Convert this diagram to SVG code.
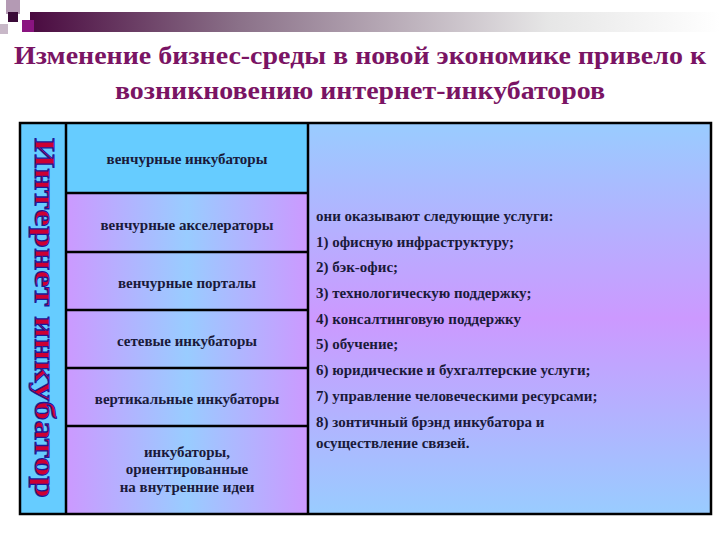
<svg xmlns="http://www.w3.org/2000/svg" width="720" height="540" viewBox="0 0 720 540">
<defs>
<linearGradient id="bar" x1="0" x2="1" y1="0" y2="0"><stop offset="0" stop-color="#4a0a40"/><stop offset="0.3" stop-color="#8a7088"/><stop offset="0.75" stop-color="#e6e6e6"/><stop offset="1" stop-color="#ffffff"/></linearGradient>
<linearGradient id="mid" x1="0" x2="1" y1="0" y2="0"><stop offset="0" stop-color="#cc99ff"/><stop offset="0.5" stop-color="#99ccff"/><stop offset="1" stop-color="#cc99ff"/></linearGradient>
<linearGradient id="right" x1="0" x2="0" y1="0" y2="1"><stop offset="0" stop-color="#99ccff"/><stop offset="0.5" stop-color="#cc99ff"/><stop offset="1" stop-color="#99ccff"/></linearGradient>
</defs>
<style>
.ln{stroke:#000;stroke-width:2.5;fill:none}
text{font-family:'Liberation Serif','Times New Roman','DejaVu Serif',serif;font-weight:bold}
.t{fill:#7a1464;font-size:25px}
.c{fill:#1a1a3a;font-size:15px}
</style>
<rect x="30" y="12" width="690" height="20" fill="url(#bar)"/>
<rect x="6" y="0" width="14" height="14" fill="#b49ab4"/>
<rect x="20" y="6" width="10" height="8" fill="#fff"/>
<rect x="8" y="12" width="10" height="10" fill="#3a0a38"/>
<rect x="22" y="20" width="12" height="12" fill="#8a1480"/>
<rect x="0" y="24" width="8" height="10" fill="#c8b8c8"/>
<text class="t" x="360" y="64" text-anchor="middle" textLength="692" lengthAdjust="spacingAndGlyphs">Изменение бизнес-среды в новой экономике привело к</text>
<text class="t" x="360" y="99" text-anchor="middle" textLength="490" lengthAdjust="spacingAndGlyphs">возникновению интернет-инкубаторов</text>
<g id="left"><rect x="20" y="123" width="46" height="391" fill="#66ccff"/>
<text transform="translate(35,318) rotate(90)" text-anchor="middle" font-size="30" fill="#cc0033" stroke="#1a1a9a" stroke-width="1" textLength="360" lengthAdjust="spacingAndGlyphs">Интернет инкубатор</text></g>
<g id="n1"><rect x="66" y="123" width="242" height="70" fill="#66ccff"/><text class="c" x="187" y="164" text-anchor="middle">венчурные инкубаторы</text></g>
<g id="n2"><rect x="66" y="193" width="242" height="59" fill="url(#mid)"/><text class="c" x="187" y="230" text-anchor="middle">венчурные акселераторы</text></g>
<g id="n3"><rect x="66" y="252" width="242" height="58" fill="url(#mid)"/><text class="c" x="187" y="288" text-anchor="middle">венчурные порталы</text></g>
<g id="n4"><rect x="66" y="310" width="242" height="58" fill="url(#mid)"/><text class="c" x="187" y="346" text-anchor="middle">сетевые инкубаторы</text></g>
<g id="n5"><rect x="66" y="368" width="242" height="58" fill="url(#mid)"/><text class="c" x="187" y="404" text-anchor="middle">вертикальные инкубаторы</text></g>
<g id="n6"><rect x="66" y="426" width="242" height="88" fill="url(#mid)"/>
<text class="c" x="187" y="457" text-anchor="middle">инкубаторы,</text>
<text class="c" x="187" y="474" text-anchor="middle">ориентированные</text>
<text class="c" x="187" y="492" text-anchor="middle">на внутренние идеи</text></g>
<g id="right-col"><rect x="308" y="123" width="403" height="391" fill="url(#right)"/>
<text class="c" x="316" y="221">они оказывают следующие услуги:</text>
<text class="c" x="316" y="247">1) офисную инфраструктуру;</text>
<text class="c" x="316" y="272">2) бэк-офис;</text>
<text class="c" x="316" y="298">3)  технологическую поддержку;</text>
<text class="c" x="316" y="324">4)  консалтинговую поддержку</text>
<text class="c" x="316" y="349">5)  обучение;</text>
<text class="c" x="316" y="375">6)  юридические и бухгалтерские услуги;</text>
<text class="c" x="316" y="401">7) управление человеческими ресурсами;</text>
<text class="c" x="316" y="427">8) зонтичный брэнд инкубатора и</text>
<text class="c" x="316" y="448">осуществление связей.</text></g>
<g id="lines" class="ln">
<rect x="20" y="123" width="691" height="391"/>
<line x1="66" y1="123" x2="66" y2="514"/><line x1="308" y1="123" x2="308" y2="514"/>
<line x1="66" y1="193" x2="308" y2="193"/><line x1="66" y1="252" x2="308" y2="252"/>
<line x1="66" y1="310" x2="308" y2="310"/><line x1="66" y1="368" x2="308" y2="368"/>
<line x1="66" y1="426" x2="308" y2="426"/>
</g>
</svg>
